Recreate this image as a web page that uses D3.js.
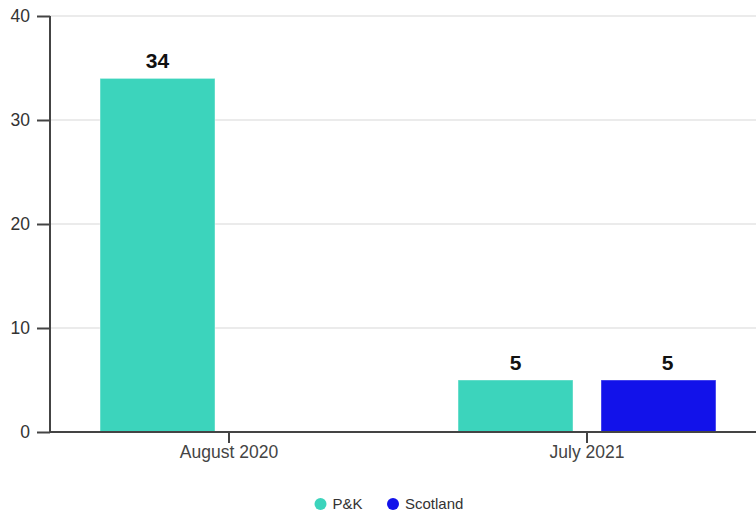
<!DOCTYPE html>
<html><head><meta charset="utf-8">
<script src="https://cdn.jsdelivr.net/npm/d3@7"></script>
<style>body{margin:0;background:#fff;}svg{display:block;font-family:"Liberation Sans",Arial,sans-serif;}</style>
</head><body><svg id="c" width="756" height="513"></svg>
<script>
const categories = ["August 2020", "July 2021"];
const seriesNames = ["P&K", "Scotland"];
const pkValues = [34, 5];
const scotlandValues = [null, 5];
const yTicks = [0, 10, 20, 30, 40];
const colors = ["#3cd4bc", "#1212ea"];

const svg = d3.select("#c");
const x0 = d3.scaleBand().domain(categories).range([50, 766]).padding(0);
const x1 = d3.scaleBand().domain(seriesNames).range([0, x0.bandwidth()]).paddingInner(0.196).paddingOuter(0.35);
const y = d3.scaleLinear().domain([0, 40]).range([432, 16]);
const color = d3.scaleOrdinal().domain(seriesNames).range(colors);
const labelShift = d3.scaleOrdinal().domain(seriesNames).range([0, 9]);

// grid
svg.append("g").selectAll("line").data(yTicks.filter(d => d > 0)).join("line")
  .attr("x1", 50).attr("x2", 756).attr("y1", d => y(d)).attr("y2", d => y(d))
  .attr("stroke", "#e4e4e4").attr("stroke-width", 1.5);

const rows = categories.map((c, i) => ({cat: c, vals: [pkValues[i], scotlandValues[i]]}));
const g = svg.append("g").selectAll("g").data(rows).join("g")
  .attr("transform", d => `translate(${x0(d.cat)},0)`);
g.selectAll("rect").data(d => d.vals.map((v, j) => ({key: seriesNames[j], v})).filter(d => d.v != null)).join("rect")
  .attr("x", d => x1(d.key)).attr("width", x1.bandwidth())
  .attr("y", d => y(d.v)).attr("height", d => y(0) - y(d.v))
  .attr("fill", d => color(d.key)).attr("stroke", "rgba(255,255,255,0.4)").attr("stroke-width", 1);
g.selectAll("text").data(d => d.vals.map((v, j) => ({key: seriesNames[j], v})).filter(d => d.v != null)).join("text")
  .attr("x", d => x1(d.key) + x1.bandwidth() / 2 + labelShift(d.key)).attr("y", d => y(d.v) - 10)
  .attr("text-anchor", "middle").attr("font-size", 21).attr("font-weight", "bold").attr("fill", "#111")
  .text(d => d.v);

// y axis
const ya = svg.append("g").attr("transform", "translate(50,0)")
  .call(d3.axisLeft(y).tickValues(yTicks).tickSize(13).tickPadding(7));
ya.selectAll("text").attr("font-size", 17.5).attr("fill", "#333").attr("font-family", "Liberation Sans, Arial, sans-serif");
ya.selectAll("line").attr("stroke", "#444").attr("stroke-width", 2);
ya.select("path").attr("d", "M0,16V432").attr("stroke", "#444").attr("stroke-width", 2);

// x axis
const xa = svg.append("g").attr("transform", "translate(0,432)")
  .call(d3.axisBottom(x0).tickSize(11).tickPadding(3));
xa.select("path").attr("d", "M50,0H756").attr("stroke", "#444").attr("stroke-width", 2);
xa.selectAll("line").attr("stroke", "#444").attr("stroke-width", 2);
xa.selectAll("text").attr("font-size", 17.5).attr("fill", "#444").attr("font-family", "Liberation Sans, Arial, sans-serif");

// legend
const legendX = [320.5, 393];
const lg = svg.append("g").selectAll("g").data(seriesNames).join("g")
  .attr("transform", (d, i) => `translate(${legendX[i]},504)`);
lg.append("circle").attr("r", 6).attr("fill", d => color(d));
lg.append("text").attr("x", 12).attr("dy", "0.35em").attr("font-size", 15).attr("fill", "#333").text(d => d);
</script></body></html>
